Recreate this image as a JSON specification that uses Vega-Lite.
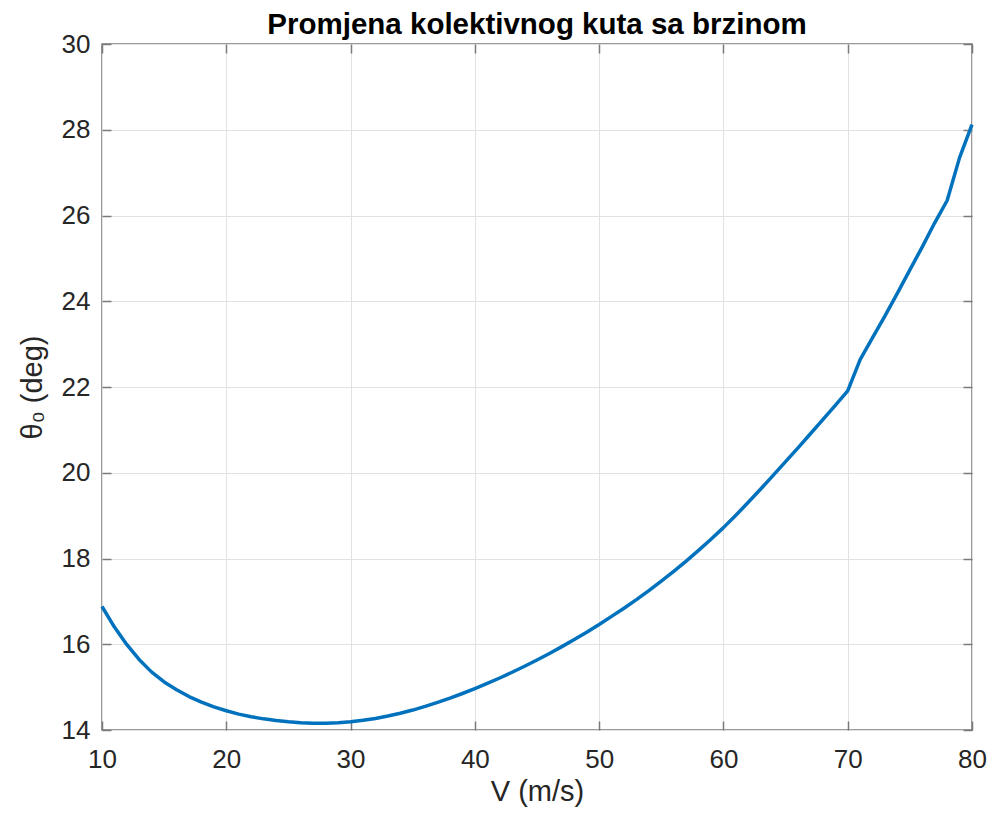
{
  "$schema": "https://vega.github.io/schema/vega-lite/v6.json",
  "width": 870,
  "height": 686,
  "autosize": {"type": "none"},
  "padding": {"left": 102, "top": 44, "right": 17, "bottom": 84},
  "background": "white",
  "title": {
    "text": "Promjena kolektivnog kuta sa brzinom",
    "font": "Liberation Sans",
    "fontSize": 29.5,
    "fontWeight": "bold",
    "color": "#000000",
    "anchor": "middle",
    "offset": -9
  },
  "config": {
    "view": {"stroke": "#7a7a7a", "strokeWidth": 1.5},
    "axis": {
      "domain": false,
      "grid": true,
      "gridColor": "#e2e2e2",
      "gridWidth": 1,
      "ticks": true,
      "tickColor": "#7a7a7a",
      "tickWidth": 1.5,
      "tickSize": -9,
      "labelFont": "Liberation Sans",
      "labelFontSize": 26,
      "labelColor": "#262626",
      "labelFlush": false,
      "labelOverlap": false,
      "titleFont": "Liberation Sans",
      "titleFontSize": 29,
      "titleFontWeight": "normal",
      "titleColor": "#262626"
    }
  },
  "data": {
    "values": [
      {"V": 10, "theta": 16.88}, {"V": 11, "theta": 16.40}, {"V": 12, "theta": 15.99},
      {"V": 13, "theta": 15.64}, {"V": 14, "theta": 15.35}, {"V": 15, "theta": 15.12},
      {"V": 16, "theta": 14.94}, {"V": 17, "theta": 14.78}, {"V": 18, "theta": 14.65},
      {"V": 19, "theta": 14.54}, {"V": 20, "theta": 14.45}, {"V": 21, "theta": 14.37},
      {"V": 22, "theta": 14.31}, {"V": 23, "theta": 14.26}, {"V": 24, "theta": 14.22},
      {"V": 25, "theta": 14.19}, {"V": 26, "theta": 14.17}, {"V": 27, "theta": 14.16},
      {"V": 28, "theta": 14.16}, {"V": 29, "theta": 14.17}, {"V": 30, "theta": 14.19},
      {"V": 31, "theta": 14.225}, {"V": 32, "theta": 14.27}, {"V": 33, "theta": 14.325},
      {"V": 34, "theta": 14.39}, {"V": 35, "theta": 14.465}, {"V": 36, "theta": 14.55},
      {"V": 37, "theta": 14.643}, {"V": 38, "theta": 14.743}, {"V": 39, "theta": 14.851},
      {"V": 40, "theta": 14.966}, {"V": 41, "theta": 15.086}, {"V": 42, "theta": 15.213},
      {"V": 43, "theta": 15.347}, {"V": 44, "theta": 15.487}, {"V": 45, "theta": 15.633},
      {"V": 46, "theta": 15.786}, {"V": 47, "theta": 15.945}, {"V": 48, "theta": 16.11},
      {"V": 49, "theta": 16.28}, {"V": 50, "theta": 16.46}, {"V": 51, "theta": 16.65},
      {"V": 52, "theta": 16.84}, {"V": 53, "theta": 17.04}, {"V": 54, "theta": 17.25},
      {"V": 55, "theta": 17.47}, {"V": 56, "theta": 17.70}, {"V": 57, "theta": 17.94},
      {"V": 58, "theta": 18.19}, {"V": 59, "theta": 18.45}, {"V": 60, "theta": 18.72},
      {"V": 61, "theta": 19.01}, {"V": 62, "theta": 19.31}, {"V": 63, "theta": 19.62},
      {"V": 64, "theta": 19.94}, {"V": 65, "theta": 20.26}, {"V": 66, "theta": 20.58},
      {"V": 67, "theta": 20.91}, {"V": 68, "theta": 21.24}, {"V": 69, "theta": 21.57},
      {"V": 70, "theta": 21.91}, {"V": 71, "theta": 22.64}, {"V": 72, "theta": 23.15},
      {"V": 73, "theta": 23.66}, {"V": 74, "theta": 24.19}, {"V": 75, "theta": 24.73},
      {"V": 76, "theta": 25.27}, {"V": 77, "theta": 25.83}, {"V": 78, "theta": 26.35},
      {"V": 79, "theta": 27.35}, {"V": 80, "theta": 28.12}
    ]
  },
  "layer": [
    {
      "mark": {"type": "line", "color": "#0072BD", "strokeWidth": 3.5, "strokeJoin": "round"},
      "encoding": {
        "x": {
          "field": "V", "type": "quantitative",
          "scale": {"domain": [10, 80], "nice": false, "zero": false},
          "axis": {"title": "V (m/s)", "values": [10, 20, 30, 40, 50, 60, 70, 80], "labelPadding": 25, "titlePadding": 5}
        },
        "y": {
          "field": "theta", "type": "quantitative",
          "scale": {"domain": [14, 30], "nice": false, "zero": false},
          "axis": {"title": "θ₀ (deg)", "values": [14, 16, 18, 20, 22, 24, 26, 28, 30], "labelPadding": 21, "titlePadding": 14}
        }
      }
    },
    {
      "mark": {"type": "line", "strokeOpacity": 0},
      "encoding": {
        "x": {
          "field": "V", "type": "quantitative",
          "axis": {"orient": "top", "title": null, "labels": false, "grid": false, "values": [10, 20, 30, 40, 50, 60, 70, 80]}
        },
        "y": {
          "field": "theta", "type": "quantitative",
          "axis": {"orient": "right", "title": null, "labels": false, "grid": false, "values": [14, 16, 18, 20, 22, 24, 26, 28, 30]}
        }
      }
    }
  ],
  "resolve": {"axis": {"x": "independent", "y": "independent"}}
}
